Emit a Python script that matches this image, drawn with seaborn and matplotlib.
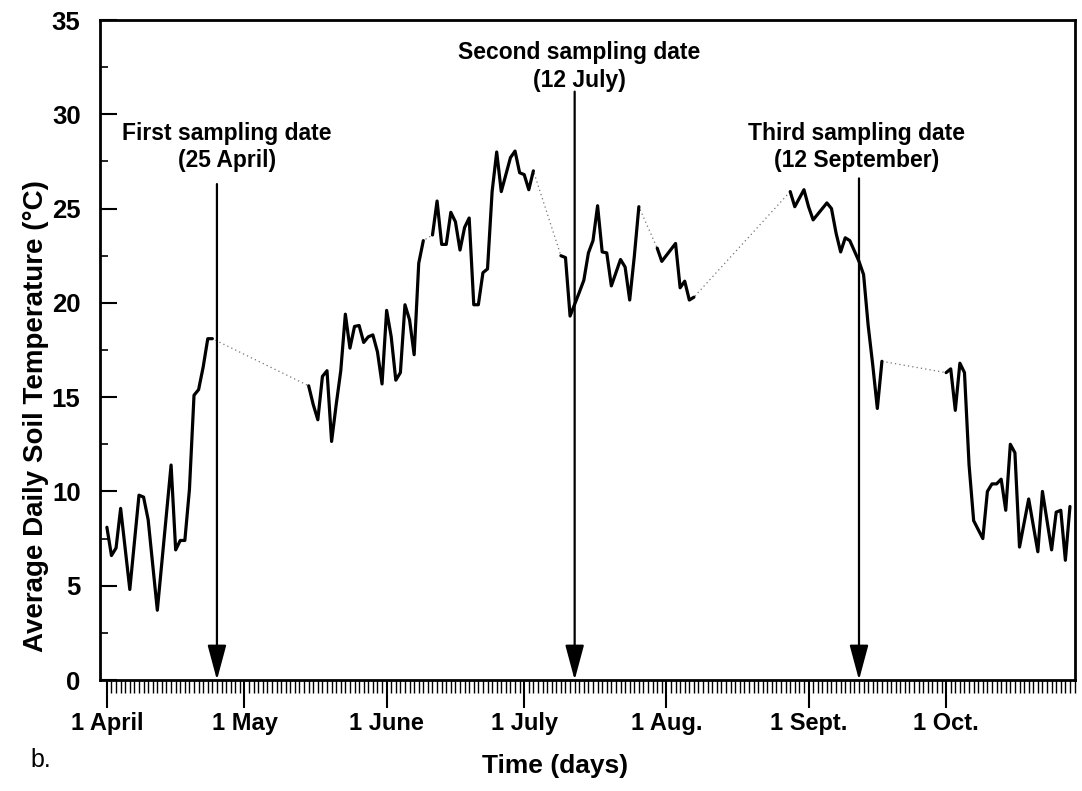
import numpy as np
import pandas as pd
import matplotlib
matplotlib.use("Agg")
import matplotlib.pyplot as plt
import seaborn as sns

# ---- data (days after 1 April, average daily soil temperature in degC) ----
apr_days = [0, 1, 2, 3, 5, 7, 8, 9, 11, 14, 15, 16, 17, 18, 19, 20, 21, 22, 23]
apr_temp = [8.1, 6.6, 7.0, 9.1, 4.8, 9.8, 9.7, 8.5, 3.7, 11.4, 6.9, 7.4, 7.4, 10.1, 15.1, 15.4, 16.6, 18.1, 18.1]

mayjun_days = [44, 45, 46, 47, 48, 49, 50, 51, 52, 53, 54, 55, 56, 57, 58, 59, 60, 61, 62, 63, 64, 65, 66, 67, 68, 69]
mayjun_temp = [15.6, 14.6, 13.8, 16.1, 16.4, 12.65, 14.6, 16.4, 19.4, 17.6, 18.75, 18.8, 17.9, 18.2, 18.3, 17.4,
               15.7, 19.6, 18.2, 15.9, 16.3, 19.9, 19.1, 17.25, 22.1, 23.3]

junjul_days = [71, 72, 73, 74, 75, 76, 77, 78, 79, 80, 81, 82, 83, 84, 85, 86, 88, 89, 90, 91, 92, 93]
junjul_temp = [23.6, 25.4, 23.1, 23.1, 24.8, 24.3, 22.8, 24.0, 24.5, 19.9, 19.9, 21.6, 21.8, 25.9, 28.0, 25.9,
               27.7, 28.05, 26.9, 26.8, 26.0, 27.0]

jul_days = [99, 100, 101, 103, 104, 105, 106, 107, 108, 109, 110, 112, 113, 114, 115, 116]
jul_temp = [22.5, 22.4, 19.3, 20.55, 21.2, 22.65, 23.3, 25.15, 22.7, 22.65, 20.9, 22.3, 21.9, 20.15, 22.45, 25.1]

aug_days = [120, 121, 124, 125, 126, 127, 128]
aug_temp = [22.9, 22.2, 23.15, 20.8, 21.15, 20.15, 20.3]

sep_days = [149, 150, 152, 153, 154, 157, 158, 159, 160, 161, 162, 164, 165, 166, 167, 168, 169]
sep_temp = [25.9, 25.1, 26.0, 25.1, 24.4, 25.3, 25.0, 23.7, 22.7, 23.45, 23.3, 22.2, 21.5, 18.8, 16.7, 14.4, 16.9]

oct_days = [183, 184, 185, 186, 187, 188, 189, 191, 192, 193, 194, 195, 196, 197, 198, 199, 201, 203, 204,
            206, 207, 208, 209, 210]
oct_temp = [16.3, 16.5, 14.3, 16.8, 16.3, 11.4, 8.45, 7.5, 10.0, 10.4, 10.4, 10.65, 9.0, 12.5, 12.05, 7.05,
            9.6, 6.8, 10.0, 6.9, 8.9, 9.0, 6.35, 9.2]

month_days = [0, 30, 61, 91, 122, 153, 183]
month_labels = ["1 April", "1 May", "1 June", "1 July", "1 Aug.", "1 Sept.", "1 Oct."]

sampling_days = [24, 102, 164]
sampling_title = ["First sampling date", "Second sampling date", "Third sampling date"]
sampling_date = ["(25 April)", "(12 July)", "(12 September)"]

# ---- build table ----
segments = [(apr_days, apr_temp), (mayjun_days, mayjun_temp), (junjul_days, junjul_temp),
            (jul_days, jul_temp), (aug_days, aug_temp), (sep_days, sep_temp), (oct_days, oct_temp)]
df = pd.concat([pd.DataFrame({"day": d, "temp": t, "seg": i}) for i, (d, t) in enumerate(segments)],
               ignore_index=True)

sns.set_style("ticks")
plt.rcParams["font.family"] = ["Liberation Sans", "DejaVu Sans"]
plt.rcParams["font.weight"] = "bold"
for key in ["text.color", "axes.labelcolor", "xtick.color", "ytick.color", "axes.edgecolor"]:
    plt.rcParams[key] = "black"

fig = plt.figure(figsize=(10.82, 7.91), dpi=100)
ax = fig.add_axes([100 / 1082, 1 - 680 / 791, 975 / 1082, 660 / 791])

# dotted connection across missing days
sns.lineplot(data=df, x="day", y="temp", estimator=None, sort=True, color="0.45",
             lw=0.9, linestyle=(0, (1, 2.5)), ax=ax, zorder=2)
# solid measured segments
sns.lineplot(data=df, x="day", y="temp", units="seg", estimator=None, sort=False,
             color="black", lw=2.3, ax=ax, zorder=3)

ax.set_xlim(-1.5, 211.1)
ax.set_ylim(0, 35)

ax.set_xticks(month_days)
ax.set_xticklabels(month_labels)
ax.set_xticks(np.arange(0, 212), minor=True)
ax.set_yticks(np.arange(0, 36, 5))
ax.set_yticks(np.arange(0, 35, 2.5), minor=True)

ax.tick_params(axis="x", which="major", direction="out", length=20, width=1.5, pad=3, labelsize=17)
ax.tick_params(axis="x", which="minor", direction="out", length=9, width=1)
ax.tick_params(axis="y", which="major", direction="in", length=12, width=1.5, pad=14, labelsize=18.5)
ax.tick_params(axis="y", which="minor", direction="in", length=6, width=1.2)
for lab in ax.get_xticklabels() + ax.get_yticklabels():
    lab.set_fontweight("bold")

for sp in ax.spines.values():
    sp.set_visible(True)
    sp.set_linewidth(2)
    sp.set_color("black")

ax.set_xlabel("Time (days)", fontsize=19, fontweight="bold")
ax.set_ylabel("Average Daily Soil Temperature (°C)", fontsize=20, fontweight="bold")
ax.xaxis.set_label_coords(0.467, -0.112)
ax.yaxis.set_label_coords(-0.052, 0.40)

# sampling annotations
text_x = [26.2, 103, 163.4]
line1_y = [29.0, 33.3, 29.0]
line2_y = [27.55, 31.8, 27.55]
arrow_top = [26.3, 31.2, 26.6]
for d, tx, y1, y2, top, t1, t2 in zip(sampling_days, text_x, line1_y, line2_y, arrow_top,
                                      sampling_title, sampling_date):
    ax.text(tx, y1, t1, ha="center", va="center", fontsize=16.5, fontweight="bold")
    ax.text(tx, y2, t2, ha="center", va="center", fontsize=16.5, fontweight="bold")
    ax.annotate("", xy=(d, 0), xytext=(d, top),
                arrowprops=dict(arrowstyle="-|>,head_length=1.08,head_width=0.29",
                                color="black", lw=1.6, shrinkA=0, shrinkB=0,
                                mutation_scale=20), zorder=4)

fig.text(30 / 1082, 1 - 760 / 791, "b.", fontsize=18, fontweight="normal", va="center", ha="left")

fig.savefig("out.png", dpi=100)
